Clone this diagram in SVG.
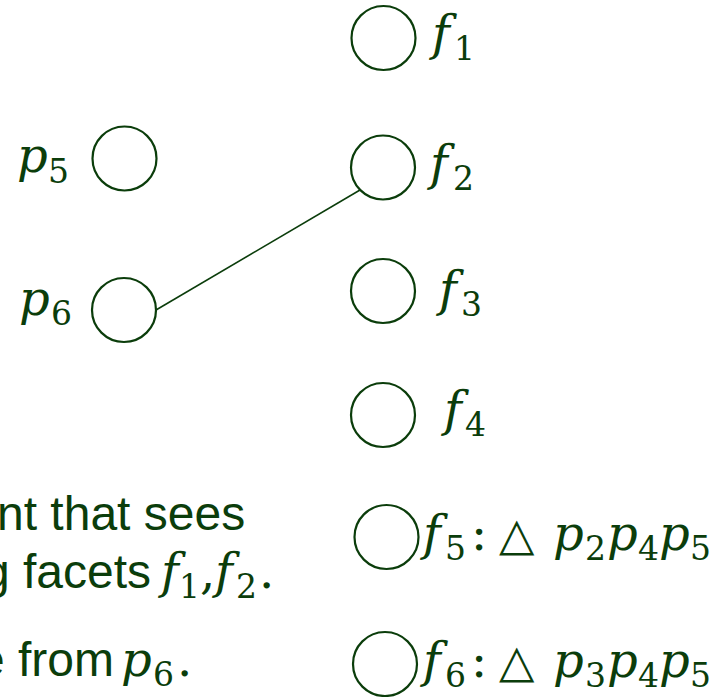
<svg xmlns="http://www.w3.org/2000/svg" width="716" height="697" viewBox="0 0 716 697">
<style>
  .node { fill: none; stroke: #0b3d0b; stroke-width: 2.2; }
  .edge { stroke: #0b3d0b; stroke-width: 1.6; fill: none; }
  .m { font-family: "DejaVu Serif", "Liberation Serif", serif; font-style: italic; font-size: 48px; fill: #0b3d0b; }
  .d { font-style: normal; font-size: 33px; }
  .u { font-style: normal; }
  .tri { font-family: "DejaVu Sans", sans-serif; font-style: normal; font-size: 46px; }
  .t { font-family: "Liberation Sans", Arial, sans-serif; font-size: 48px; fill: #0b3d0b; }
</style>
<rect width="716" height="697" fill="#ffffff"/>
<g id="connectors">
  <line class="edge" x1="156" y1="310" x2="360" y2="190"/>
</g>
<g id="p5">
  <circle class="node" cx="124.5" cy="158.5" r="32"/>
  <text class="m"><tspan x="17" y="172">p</tspan><tspan class="d" x="48" y="183">5</tspan></text>
</g>
<g id="p6">
  <circle class="node" cx="124" cy="310" r="32"/>
  <text class="m"><tspan x="19" y="315">p</tspan><tspan class="d" x="51" y="325">6</tspan></text>
</g>
<g id="f1">
  <circle class="node" cx="383.5" cy="38" r="32"/>
  <text class="m"><tspan x="432" y="50">f</tspan><tspan class="d" x="454" y="60">1</tspan></text>
</g>
<g id="f2">
  <circle class="node" cx="383" cy="167.5" r="32"/>
  <text class="m"><tspan x="430" y="180">f</tspan><tspan class="d" x="453" y="190">2</tspan></text>
</g>
<g id="f3">
  <circle class="node" cx="383" cy="291" r="32"/>
  <text class="m"><tspan x="439" y="306">f</tspan><tspan class="d" x="461" y="316">3</tspan></text>
</g>
<g id="f4">
  <circle class="node" cx="383" cy="415" r="32"/>
  <text class="m"><tspan x="444" y="426">f</tspan><tspan class="d" x="465" y="436">4</tspan></text>
</g>
<g id="f5">
  <circle class="node" cx="386.5" cy="537" r="32"/>
  <text class="m"><tspan x="423" y="550">f</tspan><tspan class="d" x="445" y="560">5</tspan><tspan class="u" x="471" y="550">:</tspan><tspan class="tri" x="499" y="550">△</tspan><tspan x="553" y="550">p</tspan><tspan class="d" x="585" y="560">2</tspan><tspan x="607" y="550">p</tspan><tspan class="d" x="638" y="560">4</tspan><tspan x="659" y="550">p</tspan><tspan class="d" x="690" y="560">5</tspan></text>
</g>
<g id="f6">
  <circle class="node" cx="385" cy="664" r="32"/>
  <text class="m"><tspan x="423" y="677">f</tspan><tspan class="d" x="445" y="687">6</tspan><tspan class="u" x="471" y="677">:</tspan><tspan class="tri" x="499" y="677">△</tspan><tspan x="553" y="677">p</tspan><tspan class="d" x="585" y="687">3</tspan><tspan x="607" y="677">p</tspan><tspan class="d" x="638" y="687">4</tspan><tspan x="659" y="677">p</tspan><tspan class="d" x="690" y="687">5</tspan></text>
</g>
<g id="caption">
  <text class="t" x="-3" y="530">nt that sees</text>
  <text class="t" x="-17" y="588">g facets </text>
  <text class="m"><tspan x="161" y="588">f</tspan><tspan class="d" x="179" y="598">1</tspan><tspan class="u" x="200" y="588">,</tspan><tspan x="215" y="588">f</tspan><tspan class="d" x="236" y="598">2</tspan><tspan class="u" x="259" y="588">.</tspan></text>
  <text class="t" x="-22" y="676">e from </text>
  <text class="m"><tspan x="121" y="676">p</tspan><tspan class="d" x="153" y="686">6</tspan><tspan class="u" x="177" y="676">.</tspan></text>
</g>
</svg>
